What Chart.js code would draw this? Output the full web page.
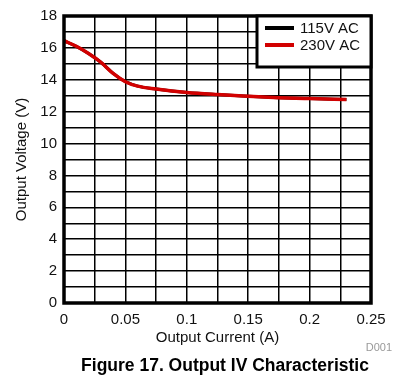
<!DOCTYPE html>
<html>
<head>
<meta charset="utf-8">
<script src="https://cdn.jsdelivr.net/npm/chart.js@4/dist/chart.umd.min.js"></script>
<style>
  html, body { margin: 0; padding: 0; background: #fff; }
  #wrap { width: 406px; height: 381px; }
</style>
</head>
<body>
<div id="wrap"><canvas id="ivChart" width="406" height="381"></canvas></div>
<script>
// values
const currentA = [0, 0.01, 0.02, 0.03, 0.04, 0.05, 0.06, 0.075, 0.1, 0.125, 0.15, 0.175, 0.2, 0.23];
const volts115 = [16.45, 16.1, 15.65, 15.1, 14.4, 13.88, 13.6, 13.42, 13.2, 13.07, 12.97, 12.88, 12.82, 12.76];
const volts230 = [16.45, 16.1, 15.65, 15.1, 14.4, 13.88, 13.6, 13.42, 13.2, 13.07, 12.97, 12.88, 12.82, 12.76];
const seriesLabels = ['115V AC', '230V AC'];
const xTickLabels = ['0', '0.05', '0.1', '0.15', '0.2', '0.25'];
const yTickLabels = ['0', '2', '4', '6', '8', '10', '12', '14', '16', '18'];

const FONT = "'Liberation Sans', Arial, sans-serif";

function toPoints(xs, ys) {
    return xs.map((x, i) => ({ x: x, y: ys[i] }));
}

function findLabel(list, value) {
    const hit = list.find(l => Math.abs(parseFloat(l) - value) < 1e-6);
    return hit === undefined ? '' : hit;
}

// thick frame, legend box, caption and figure title
const decorations = {
    id: 'decorations',
    afterDatasetsDraw(chart) {
        const { ctx, chartArea: a } = chart;
        ctx.save();
        // plot frame
        ctx.strokeStyle = '#000';
        ctx.lineWidth = 3.5;
        ctx.strokeRect(a.left, a.top, a.right - a.left, a.bottom - a.top);

        // legend box
        const bx = 257, by = a.top, bw = a.right - 257, bh = 51;
        ctx.fillStyle = '#fff';
        ctx.fillRect(bx, by, bw, bh);
        ctx.lineWidth = 3;
        ctx.strokeRect(bx, by, bw, bh);
        ctx.font = '15px ' + FONT;
        ctx.textBaseline = 'middle';
        ctx.textAlign = 'left';
        chart.data.datasets.forEach((ds, i) => {
            const y = 28 + i * 17;
            ctx.strokeStyle = ds.borderColor;
            ctx.lineWidth = 4;
            ctx.beginPath();
            ctx.moveTo(265, y);
            ctx.lineTo(294, y);
            ctx.stroke();
            ctx.fillStyle = '#111';
            ctx.fillText(ds.label, 300, y + 1);
        });

        // caption
        ctx.font = '11px ' + FONT;
        ctx.fillStyle = '#999';
        ctx.textAlign = 'right';
        ctx.fillText('D001', 392, 348);

        ctx.font = 'bold 17.5px ' + FONT;
        ctx.fillStyle = '#000';
        ctx.textAlign = 'center';
        ctx.fillText('Figure 17. Output IV Characteristic', 225, 366);
        ctx.restore();
    }
};

const ctx = document.getElementById('ivChart').getContext('2d');
new Chart(ctx, {
    type: 'scatter',
    data: {
        datasets: [
            {
                label: seriesLabels[0],
                data: toPoints(currentA, volts115),
                showLine: true,
                borderColor: '#000000',
                borderWidth: 3,
                pointRadius: 0,
                order: 1,
                cubicInterpolationMode: 'monotone'
            },
            {
                label: seriesLabels[1],
                data: toPoints(currentA, volts230),
                showLine: true,
                borderColor: '#d20000',
                borderWidth: 3.5,
                pointRadius: 0,
                order: 0,
                cubicInterpolationMode: 'monotone'
            }
        ]
    },
    options: {
        responsive: false,
        animation: false,
        layout: { padding: { top: 11, right: 35, left: 0, bottom: 28 } },
        plugins: {
            legend: { display: false },
            tooltip: { enabled: false },
            title: { display: false }
        },
        scales: {
            x: {
                type: 'linear',
                min: 0,
                max: 0.25,
                afterFit: s => { s.height = 50; },
                grid: { color: '#000', lineWidth: 1.5, drawTicks: false },
                border: { display: false },
                ticks: {
                    stepSize: 0.025,
                    padding: 8,
                    maxRotation: 0,
                    autoSkip: false,
                    color: '#111',
                    font: { family: FONT, size: 15 },
                    callback: v => findLabel(xTickLabels, v)
                },
                title: {
                    display: true,
                    text: 'Output Current (A)',
                    color: '#111',
                    font: { family: FONT, size: 15 },
                    padding: { top: 0, bottom: 6 }
                }
            },
            y: {
                min: 0,
                max: 18,
                afterFit: s => { s.width = 64; },
                grid: { color: '#000', lineWidth: 1.5, drawTicks: false },
                border: { display: false },
                ticks: {
                    stepSize: 1,
                    padding: 7,
                    autoSkip: false,
                    color: '#111',
                    font: { family: FONT, size: 15 },
                    callback: v => findLabel(yTickLabels, v)
                },
                title: {
                    display: true,
                    text: 'Output Voltage (V)',
                    color: '#111',
                    font: { family: FONT, size: 15 },
                    padding: { top: 13, bottom: 0 }
                }
            }
        }
    },
    plugins: [decorations]
});
</script>
</body>
</html>
